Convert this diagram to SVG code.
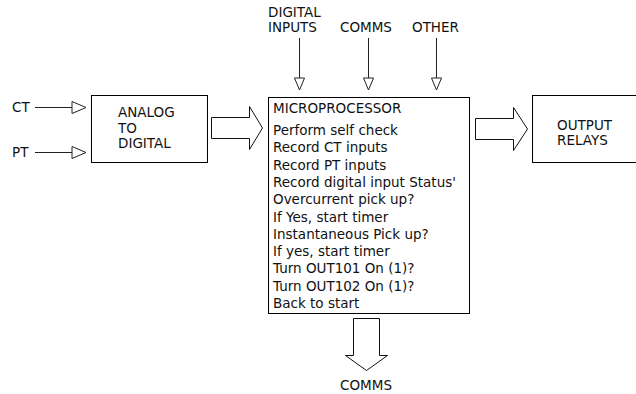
<svg xmlns="http://www.w3.org/2000/svg" width="636" height="394" viewBox="0 0 636 394">
  <defs>
    <style>
      .box { fill: #fff; stroke: #000; stroke-width: 1; }
      .wire { fill: none; stroke: #222; stroke-width: 1; }
      .head { fill: #fff; stroke: #222; stroke-width: 1; stroke-linejoin: miter; }
      .big { fill: #fff; stroke: #111; stroke-width: 1; stroke-linejoin: miter; }
      text { font-family: "DejaVu Sans", Verdana, sans-serif; font-size: 13.5px; fill: #111; }
      .mid { text-anchor: middle; }
    </style>
  </defs>

  <rect width="636" height="394" fill="#fff"/>

  <!-- signal inputs -->
  <g id="label-ct"><text x="12" y="112">CT</text></g>
  <g id="label-pt"><text x="12" y="157">PT</text></g>
  <g id="label-digital-inputs">
    <text x="268" y="17">DIGITAL</text>
    <text x="268" y="32">INPUTS</text>
  </g>
  <g id="label-comms-in"><text x="340" y="32">COMMS</text></g>
  <g id="label-other"><text x="412" y="32">OTHER</text></g>

  <!-- analog to digital converter -->
  <g id="adc">
    <rect class="box" x="91.5" y="95.5" width="116" height="67"/>
    <text x="118" y="117">ANALOG</text>
    <text x="118" y="133">TO</text>
    <text x="118" y="148">DIGITAL</text>
  </g>

  <!-- microprocessor -->
  <g id="microprocessor">
    <rect class="box" x="268.5" y="97.5" width="201" height="216"/>
    <text x="273" y="113">MICROPROCESSOR</text>
    <text x="273" y="135">Perform self check</text>
    <text x="273" y="152.3">Record CT inputs</text>
    <text x="273" y="169.6">Record PT inputs</text>
    <text x="273" y="186.9">Record digital input Status'</text>
    <text x="273" y="204.2">Overcurrent pick up?</text>
    <text x="273" y="221.5">If Yes, start timer</text>
    <text x="273" y="238.8">Instantaneous Pick up?</text>
    <text x="273" y="256.1">If yes, start timer</text>
    <text x="273" y="273.4">Turn OUT101 On (1)?</text>
    <text x="273" y="290.7">Turn OUT102 On (1)?</text>
    <text x="273" y="308">Back to start</text>
  </g>

  <!-- output relays -->
  <g id="output-relays">
    <rect class="box" x="532.5" y="95.5" width="110" height="67"/>
    <text x="557" y="130">OUTPUT</text>
    <text x="557" y="145">RELAYS</text>
  </g>

  <g id="label-comms-out"><text class="mid" x="366" y="390">COMMS</text></g>

  <!-- connectors -->
  <g id="connectors">
    <!-- CT / PT into converter -->
    <line class="wire" x1="35" y1="107.5" x2="72" y2="107.5"/>
    <polygon class="head" points="72,101.5 86,107.5 72,113.5"/>
    <line class="wire" x1="35" y1="152.5" x2="72" y2="152.5"/>
    <polygon class="head" points="72,146.5 86,152.5 72,158.5"/>

    <!-- inputs into microprocessor -->
    <line class="wire" x1="299.5" y1="38" x2="299.5" y2="78"/>
    <polygon class="head" points="294.5,78 304.5,78 299.5,90"/>
    <line class="wire" x1="368.5" y1="38" x2="368.5" y2="78"/>
    <polygon class="head" points="363.5,78 373.5,78 368.5,90"/>
    <line class="wire" x1="436.5" y1="38" x2="436.5" y2="78"/>
    <polygon class="head" points="431.5,78 441.5,78 436.5,90"/>

    <!-- block arrows -->
    <polygon class="big" points="211.5,117.5 249.5,117.5 249.5,106.5 262.5,128 249.5,149.5 249.5,138.5 211.5,138.5"/>
    <polygon class="big" points="475.5,118.5 513.5,118.5 513.5,107.5 527.5,129 513.5,150.5 513.5,139.5 475.5,139.5"/>
    <polygon class="big" points="353.5,318.5 379.5,318.5 379.5,355.5 387.5,355.5 366.5,370.5 345.5,355.5 353.5,355.5"/>
  </g>
</svg>
